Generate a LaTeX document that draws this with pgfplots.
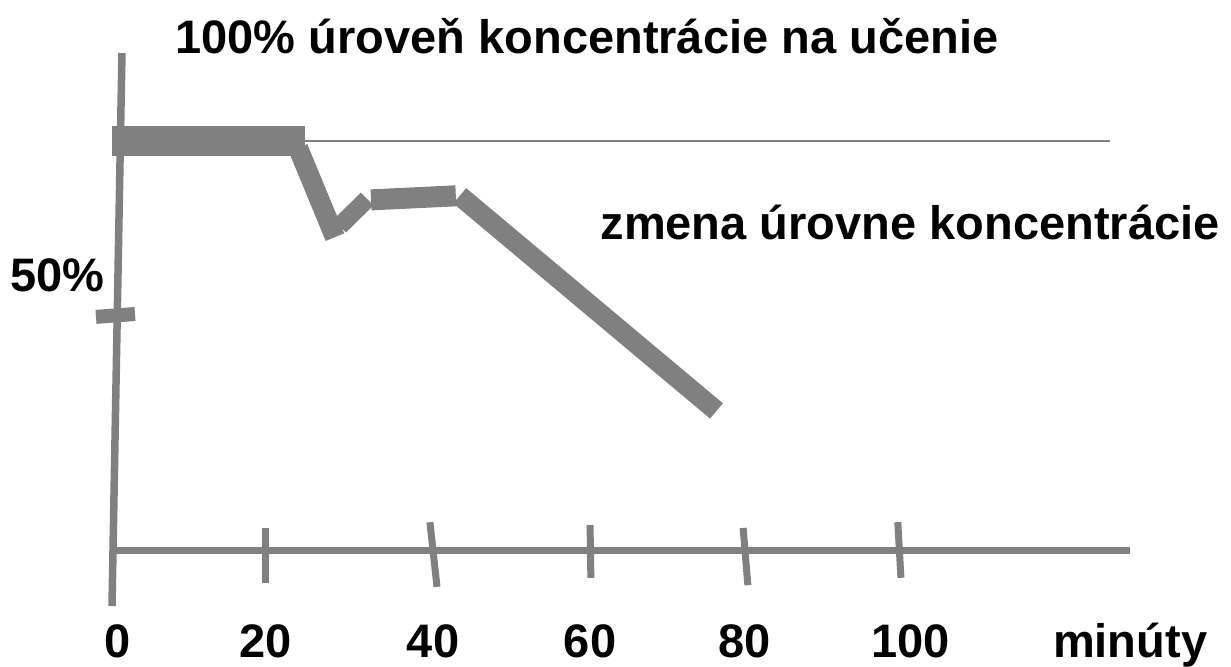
\documentclass[border=0pt]{standalone}
\usepackage{fontspec}
\setmainfont{Liberation Sans}
\usepackage{pgfplots}
\pgfplotsset{compat=1.18}
\definecolor{ln}{HTML}{808080}
\tikzset{lbl/.style={font=\fontsize{47bp}{56bp}\selectfont\bfseries, text=black, inner sep=0pt, anchor=base}}
\begin{document}
\begin{tikzpicture}
\begin{axis}[
  scale only axis, width=1231bp, height=664bp,
  xmin=-14.268, xmax=142.548, ymin=-27.873, ymax=134.474,
  hide axis, clip=false,
  every axis plot/.append style={color=ln, line cap=butt, mark=none},
]
\path (rel axis cs:0,0) rectangle (rel axis cs:1,1);
% axes
\addplot[line width=7.5bp] coordinates {(1.27,121.5) (0,-13.7)};
\addplot[line width=7bp] coordinates {(0.25,0) (129.7,0)};
% x ticks
\addplot[line width=7bp] coordinates {(19.6,5.4) (19.6,-8.1)};
\addplot[line width=7bp] coordinates {(40.5,6.8) (41.4,-9.0)};
\addplot[line width=7bp] coordinates {(60.9,6.1) (61.0,-6.8)};
\addplot[line width=7bp] coordinates {(80.4,5.4) (81.0,-8.6)};
\addplot[line width=7bp] coordinates {(100.1,6.8) (100.5,-6.8)};
% 50% tick
\addplot[line width=14bp] coordinates {(-2.04,57.0) (2.93,57.7)};
% 100% reference line
\addplot[line width=2bp] coordinates {(24.6,100) (127.1,100)};
% concentration curve (separate strokes)
\addplot[line width=30bp] coordinates {(0,100) (24.6,100)};
\addplot[line width=20bp] coordinates {(23.7,98.3) (28.4,76.5)};
\addplot[line width=18bp] coordinates {(29.0,79.2) (32.5,85.8)};
\addplot[line width=21bp] coordinates {(33.0,85.6) (43.8,86.6)};
\addplot[line width=20bp] coordinates {(44.3,86.6) (77.0,34.0)};
% texts
\node[lbl] at (axis cs:60.5,121.5) {100\% úroveň koncentrácie na učenie};
\node[lbl] at (axis cs:101.66,76.0) {zmena úrovne koncentrácie};
\node[lbl] at (axis cs:-7.0,63.1) {50\%};
\node[lbl] at (axis cs:0.76,-26.16) {0};
\node[lbl] at (axis cs:19.6,-26.16) {20};
\node[lbl] at (axis cs:40.9,-26.16) {40};
\node[lbl] at (axis cs:60.9,-26.16) {60};
\node[lbl] at (axis cs:80.6,-26.16) {80};
\node[lbl] at (axis cs:101.7,-26.16) {100};
\node[lbl] at (axis cs:129.7,-26.16) {minúty};
\end{axis}
\end{tikzpicture}
\end{document}
